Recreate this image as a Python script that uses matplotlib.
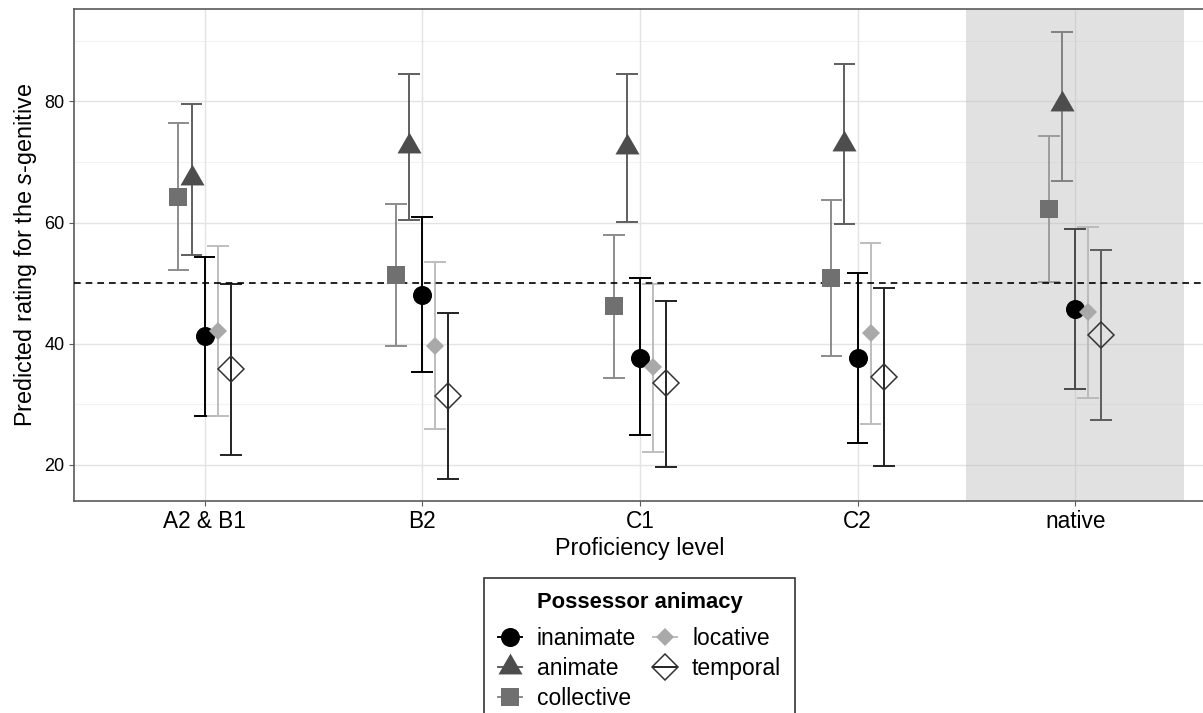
import matplotlib
matplotlib.use("Agg")
import matplotlib.pyplot as plt
from matplotlib.lines import Line2D

plt.rcParams['font.family'] = ['Liberation Sans', 'DejaVu Sans']
plt.rcParams['mathtext.fontset'] = 'custom'
plt.rcParams['mathtext.rm'] = 'Liberation Sans'
plt.rcParams['mathtext.it'] = 'Liberation Sans:italic'

# data
levels = ["A2 & B1", "B2", "C1", "C2", "native"]
groups = ["inanimate", "animate", "collective", "locative", "temporal"]

inanimate_fit = [41.2, 48.1, 37.7, 37.7, 45.8]
inanimate_lo = [28.0, 35.4, 24.9, 23.7, 32.6]
inanimate_hi = [54.4, 61.0, 50.8, 51.7, 59.0]

animate_fit = [67.3, 72.6, 72.5, 73.0, 79.5]
animate_lo = [54.6, 60.4, 60.1, 59.7, 66.8]
animate_hi = [79.5, 84.5, 84.5, 86.2, 91.5]

collective_fit = [64.3, 51.3, 46.2, 50.9, 62.3]
collective_lo = [52.1, 39.7, 34.3, 37.9, 50.2]
collective_hi = [76.4, 63.0, 58.0, 63.8, 74.3]

locative_fit = [42.1, 39.7, 36.1, 41.7, 45.2]
locative_lo = [28.0, 25.9, 22.1, 26.8, 31.1]
locative_hi = [56.2, 53.5, 49.9, 56.6, 59.3]

temporal_fit = [35.8, 31.4, 33.5, 34.5, 41.4]
temporal_lo = [21.6, 17.6, 19.7, 19.8, 27.5]
temporal_hi = [49.8, 45.0, 47.1, 49.2, 55.4]

fits = [inanimate_fit, animate_fit, collective_fit, locative_fit, temporal_fit]
los = [inanimate_lo, animate_lo, collective_lo, locative_lo, temporal_lo]
his = [inanimate_hi, animate_hi, collective_hi, locative_hi, temporal_hi]

# style per group
dodge = [0.0, -0.06, -0.12, 0.06, 0.12]
err_col = ['#000000', '#5f5f5f', '#8c8c8c', '#bebebe', '#222222']
pt_col = ['#000000', '#4d4d4d', '#707070', '#a9a9a9', 'none']
edge_col = ['#000000', '#4d4d4d', '#707070', '#a9a9a9', '#333333']
tri = [(0, 1), (-0.866, -0.5), (0.866, -0.5)]
markers = ['o', tri, 's', 'D', 'D']
msizes = [13.7, 20, 13.5, 9, 13.7]
mew = [0, 0, 0, 0, 1.1]

fig = plt.figure(figsize=(12.03, 7.13), dpi=100)
ax = fig.add_axes([74 / 1203, 1 - 501.3 / 713, (1205.8 - 74) / 1203, (501.3 - 9.3) / 713])

x = list(range(1, len(levels) + 1))

# grid
for v in [30, 50, 70, 90]:
    ax.axhline(v, color='#f2f2f2', lw=0.8, zorder=0)
for v in [20, 40, 60, 80]:
    ax.axhline(v, color='#e3e3e3', lw=1.0, zorder=0.5)
for xi in x:
    ax.axvline(xi, color='#e3e3e3', lw=1.0, zorder=0.5)

# error bars
capw = 0.05
for g in range(len(groups)):
    xs = [xi + dodge[g] for xi in x]
    ax.vlines(xs, los[g], his[g], color=err_col[g], lw=1.4, zorder=2)
    ax.hlines(los[g], [v - capw for v in xs], [v + capw for v in xs], color=err_col[g], lw=1.4, zorder=2)
    ax.hlines(his[g], [v - capw for v in xs], [v + capw for v in xs], color=err_col[g], lw=1.4, zorder=2)

# native shading
ax.axvspan(4.5, 5.5, color='#b6b6b6', alpha=0.4, lw=0, zorder=2.5)

ax.axhline(50, color='black', lw=1.2, ls=(0, (4, 3)), zorder=2.6)

# points
for g in range(len(groups)):
    xs = [xi + dodge[g] for xi in x]
    ax.plot(xs, fits[g], ls='none', marker=markers[g], ms=msizes[g],
            mfc=pt_col[g], mec=edge_col[g], mew=mew[g], zorder=3)

ax.set_xlim(0.4, 5.6)
ax.set_ylim(14.0, 95.2)
ax.set_xticks(x)
ax.set_xticklabels(levels, fontsize=16.3)
ax.set_yticks([20, 40, 60, 80])
ax.tick_params(axis='y', labelsize=13, length=3.5, color='#5a5a5a', pad=3.5)
ax.tick_params(axis='x', length=3.5, color='#5a5a5a', pad=3)
for s in ax.spines.values():
    s.set_color('#5a5a5a')
    s.set_linewidth(1.2)

ax.set_xlabel("Proficiency level", fontsize=16.8, labelpad=3)
ax.set_ylabel("Predicted rating for the $\\mathit{s}$-genitive", fontsize=16.8)
ax.yaxis.set_label_coords(-35 / 1132, 0.5)

handles = []
for g in range(len(groups)):
    handles.append(Line2D([], [], color=err_col[g], lw=1.4, marker=markers[g], ms=msizes[g],
                          mfc=pt_col[g], mec=edge_col[g], mew=mew[g]))
leg = fig.legend(handles, groups, ncol=2, loc='upper center',
                 bbox_to_anchor=(639.5 / 1203, 1 - 578.3 / 713), borderaxespad=0,
                 title="Possessor animacy", fontsize=16.5, frameon=True, fancybox=False,
                 edgecolor='black', handlelength=1.05, handletextpad=0.65,
                 columnspacing=0.75, labelspacing=0.3, borderpad=0.6)
leg.get_title().set_fontweight('bold')
leg.get_title().set_fontsize(15.8)
leg.get_frame().set_linewidth(1.2)
leg._legend_box.sep = 10

fig.savefig("out.png", dpi=100)
